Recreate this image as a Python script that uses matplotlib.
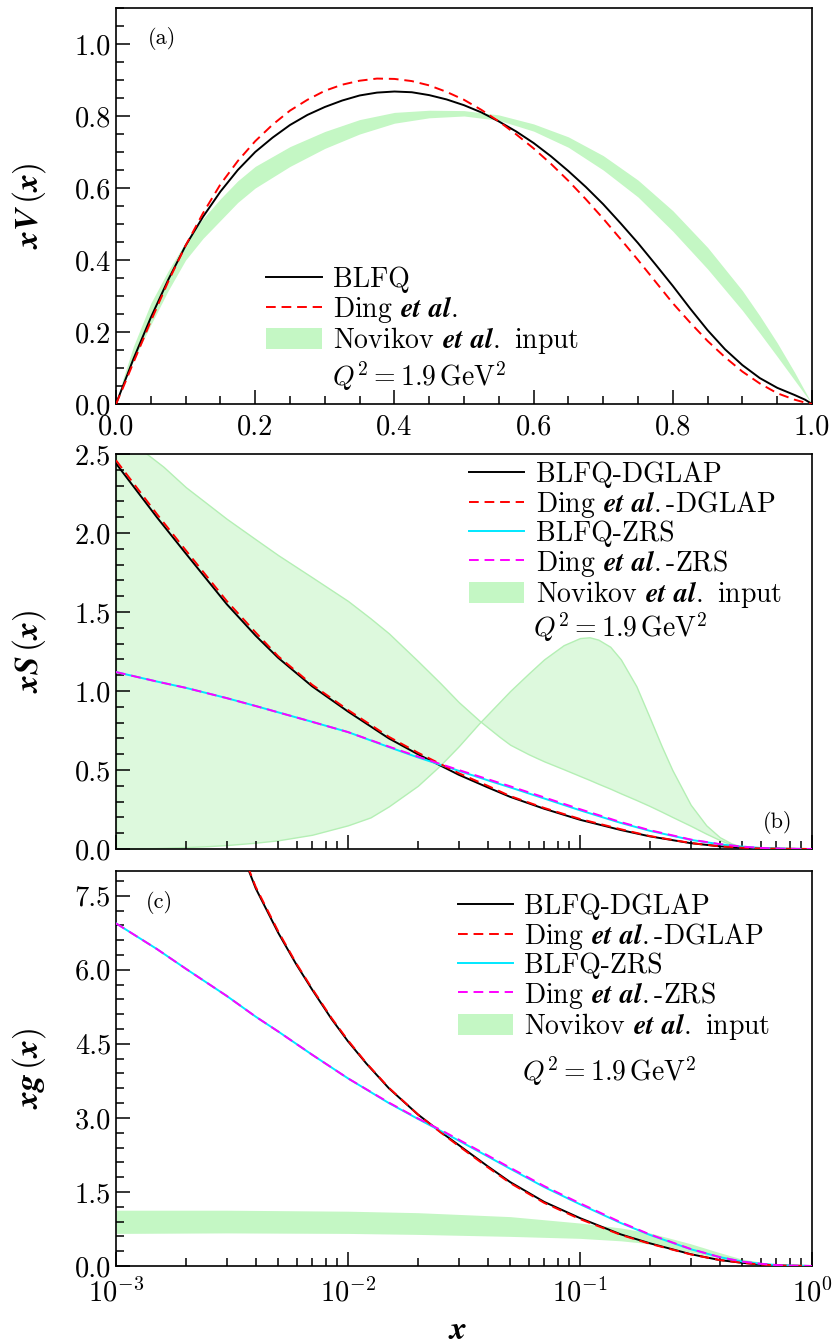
import numpy as np
import matplotlib
matplotlib.use('Agg')
import matplotlib.pyplot as plt
from matplotlib.ticker import MultipleLocator, FormatStrFormatter, LogLocator, NullFormatter
from matplotlib.lines import Line2D
from matplotlib.patches import Patch

plt.rcParams['font.family'] = 'serif'
plt.rcParams['font.serif'] = ['cmr10']
plt.rcParams['mathtext.fontset'] = 'cm'
plt.rcParams['axes.formatter.use_mathtext'] = True
plt.rcParams['axes.unicode_minus'] = False

# ---------------- Panel (a): valence xV(x) ----------------
xa = [0.0, 0.01, 0.025, 0.05, 0.075, 0.1, 0.125, 0.15, 0.175, 0.2, 0.225, 0.25, 0.275,
      0.3, 0.325, 0.35, 0.375, 0.4, 0.425, 0.45, 0.475, 0.5, 0.525, 0.55, 0.575, 0.6,
      0.625, 0.65, 0.675, 0.7, 0.725, 0.75, 0.775, 0.8, 0.825, 0.85, 0.875, 0.9,
      0.925, 0.95, 0.975, 0.99, 1.0]
blfq_a = [0.0, 0.05, 0.125, 0.24, 0.345, 0.44, 0.52, 0.59, 0.65, 0.70, 0.74, 0.775, 0.803,
          0.825, 0.843, 0.857, 0.865, 0.868, 0.866, 0.858, 0.846, 0.83, 0.81, 0.785, 0.757, 0.725,
          0.688, 0.647, 0.603, 0.555, 0.502, 0.447, 0.388, 0.328, 0.265, 0.205, 0.152, 0.108,
          0.072, 0.045, 0.025, 0.012, 0.0]
ding_a = [0.0, 0.045, 0.115, 0.23, 0.34, 0.44, 0.53, 0.61, 0.675, 0.73, 0.776, 0.815, 0.845,
          0.87, 0.887, 0.898, 0.904, 0.903, 0.897, 0.885, 0.867, 0.845, 0.817, 0.785, 0.749, 0.71,
          0.667, 0.62, 0.569, 0.515, 0.458, 0.40, 0.34, 0.28, 0.226, 0.175, 0.13, 0.09,
          0.057, 0.03, 0.012, 0.004, 0.0]
xa_band = [0.0, 0.01, 0.025, 0.05, 0.075, 0.1, 0.125, 0.15, 0.175, 0.2, 0.25, 0.3, 0.35, 0.4,
           0.45, 0.5, 0.55, 0.6, 0.65, 0.7, 0.75, 0.8, 0.85, 0.9, 0.925, 0.95, 0.975, 1.0]
nov_a_lo = [0.0, 0.05, 0.12, 0.22, 0.315, 0.40, 0.46, 0.51, 0.56, 0.60, 0.66, 0.71, 0.75, 0.78,
            0.795, 0.80, 0.788, 0.758, 0.713, 0.65, 0.575, 0.48, 0.375, 0.26, 0.197, 0.132, 0.066, 0.0]
nov_a_hi = [0.0, 0.07, 0.16, 0.28, 0.37, 0.45, 0.515, 0.57, 0.62, 0.66, 0.715, 0.757, 0.79, 0.81,
            0.816, 0.815, 0.803, 0.778, 0.742, 0.69, 0.622, 0.537, 0.435, 0.315, 0.245, 0.17, 0.088, 0.0]

# ---------------- Panel (b): sea xS(x) ----------------
xb = [1e-3, 1.5e-3, 2e-3, 3e-3, 4e-3, 5e-3, 7e-3, 1e-2, 1.5e-2, 2e-2, 3e-2, 4e-2, 5e-2,
      7e-2, 0.1, 0.15, 0.2, 0.3, 0.4, 0.5, 0.6, 0.7, 0.8, 1.0]
blfq_dglap_b = [2.44, 2.10, 1.87, 1.55, 1.35, 1.21, 1.03, 0.87, 0.70, 0.60, 0.47, 0.39, 0.33,
                0.255, 0.185, 0.12, 0.08, 0.037, 0.017, 0.008, 0.004, 0.002, 0.001, 0.0]
ding_dglap_b = [2.46, 2.12, 1.89, 1.57, 1.37, 1.22, 1.04, 0.88, 0.71, 0.61, 0.48, 0.40, 0.335,
                0.26, 0.19, 0.125, 0.082, 0.038, 0.017, 0.008, 0.004, 0.002, 0.001, 0.0]
blfq_zrs_b = [1.12, 1.06, 1.02, 0.955, 0.905, 0.865, 0.805, 0.74, 0.645, 0.58, 0.495, 0.435, 0.39,
              0.32, 0.245, 0.165, 0.115, 0.058, 0.03, 0.015, 0.007, 0.003, 0.001, 0.0]
ding_zrs_b = [1.12, 1.06, 1.02, 0.955, 0.905, 0.865, 0.805, 0.74, 0.648, 0.585, 0.50, 0.442, 0.397,
              0.327, 0.252, 0.17, 0.119, 0.06, 0.031, 0.015, 0.007, 0.003, 0.001, 0.0]
xb_band = [1e-3, 1.2e-3, 1.36e-3, 1.6e-3, 2e-3, 2.5e-3, 3e-3, 4e-3, 5e-3, 7e-3, 1e-2, 1.25e-2,
           1.5e-2, 2e-2, 2.5e-2, 3e-2, 3.7e-2, 4.5e-2, 5e-2, 6e-2, 7e-2, 8.5e-2, 0.1, 0.11,
           0.12, 0.135, 0.15, 0.175, 0.2, 0.225, 0.25, 0.3, 0.35, 0.4, 0.45, 0.5, 0.55, 0.6, 1.0]
nov_b_dec = [2.66, 2.58, 2.5, 2.42, 2.29, 2.18, 2.09, 1.96, 1.86, 1.72, 1.57, 1.46,
             1.365, 1.19, 1.05, 0.93, 0.81, 0.71, 0.66, 0.60, 0.555, 0.505, 0.462, 0.437,
             0.413, 0.382, 0.352, 0.31, 0.272, 0.236, 0.203, 0.147, 0.097, 0.057, 0.027, 0.009, 0.002, 0.0, 0.0]
nov_b_hump = [0.0, 0.002, 0.004, 0.007, 0.012, 0.018, 0.025, 0.04, 0.055, 0.09, 0.15, 0.20,
              0.27, 0.40, 0.53, 0.65, 0.80, 0.93, 1.00, 1.11, 1.20, 1.29, 1.335, 1.34,
              1.325, 1.28, 1.20, 1.03, 0.83, 0.65, 0.50, 0.28, 0.15, 0.075, 0.035, 0.013, 0.004, 0.0, 0.0]

# ---------------- Panel (c): gluon xg(x) ----------------
xc_dglap = [3.5e-3, 4e-3, 5e-3, 6e-3, 7e-3, 8.5e-3, 1e-2, 1.2e-2, 1.5e-2, 2e-2, 2.5e-2, 3e-2,
            4e-2, 5e-2, 7e-2, 0.1, 0.15, 0.2, 0.3, 0.4, 0.5, 0.6, 0.7, 0.8, 1.0]
blfq_dglap_c = [8.35, 7.65, 6.75, 6.1, 5.6, 5.0, 4.55, 4.1, 3.6, 3.07, 2.72, 2.45,
                2.02, 1.70, 1.30, 0.97, 0.64, 0.46, 0.24, 0.12, 0.065, 0.03, 0.015, 0.006, 0.0]
ding_dglap_c = [8.38, 7.68, 6.78, 6.12, 5.62, 5.02, 4.57, 4.11, 3.61, 3.07, 2.71, 2.43,
                2.0, 1.68, 1.28, 0.95, 0.63, 0.45, 0.235, 0.12, 0.065, 0.03, 0.015, 0.006, 0.0]
xc_zrs = [1e-3, 1.5e-3, 2e-3, 3e-3, 4e-3, 5e-3, 7e-3, 1e-2, 1.5e-2, 2e-2, 2.5e-2, 3e-2,
          4e-2, 5e-2, 7e-2, 0.1, 0.15, 0.2, 0.3, 0.4, 0.5, 0.6, 0.7, 0.8, 1.0]
blfq_zrs_c = [6.94, 6.42, 6.02, 5.47, 5.05, 4.75, 4.28, 3.80, 3.30, 2.98, 2.74, 2.54,
              2.22, 1.97, 1.60, 1.25, 0.87, 0.63, 0.34, 0.18, 0.09, 0.045, 0.02, 0.008, 0.0]
ding_zrs_c = [6.94, 6.42, 6.02, 5.47, 5.05, 4.75, 4.28, 3.80, 3.31, 2.99, 2.76, 2.56,
              2.24, 1.99, 1.62, 1.27, 0.885, 0.64, 0.345, 0.18, 0.09, 0.045, 0.02, 0.008, 0.0]
xc_band = [1e-3, 3e-3, 1e-2, 2e-2, 5e-2, 0.1, 0.15, 0.2, 0.3, 0.4, 0.5, 0.7, 1.0]
nov_c_lo = [0.66, 0.67, 0.66, 0.64, 0.60, 0.56, 0.51, 0.45, 0.28, 0.16, 0.07, 0.01, 0.0]
nov_c_hi = [1.13, 1.13, 1.11, 1.08, 1.00, 0.87, 0.77, 0.67, 0.45, 0.27, 0.14, 0.03, 0.0]

# ---------------- Styles ----------------
W, H = 838, 1343
GREEN = '#c4f7c4'
GREEN_B = '#ddf9dd'
GREEN_EDGE = '#b4efb4'
CYAN = '#00e8ff'
MAG = '#ff00ff'
LW = 1.4
DASH = (0, (5, 3))
TICKFS = 20.5
LEGFS = 20
LABFS = 24

fig = plt.figure(figsize=(W / 100, H / 100), dpi=100)


def rect(l, t, r, b):
    return [l / W, 1 - b / H, (r - l) / W, (b - t) / H]


axa = fig.add_axes(rect(116, 8, 812, 404))
axb = fig.add_axes(rect(116, 454, 812, 849))
axc = fig.add_axes(rect(116, 871, 812, 1266))

for ax in (axa, axb, axc):
    for s in ax.spines.values():
        s.set_linewidth(1.2)
    ax.tick_params(which='both', direction='in', top=False, right=False,
                   labelsize=TICKFS, width=1.1)
    ax.tick_params(which='major', length=10)
    ax.tick_params(which='minor', length=6)

leg_kw = dict(loc='upper left', frameon=False, fontsize=LEGFS, handlelength=2.0,
              handletextpad=0.4, borderpad=0, borderaxespad=0, handleheight=0.8,
              labelspacing=0.02)

# ---- (a)
axa.fill_between(xa_band, nov_a_lo, nov_a_hi, color=GREEN, lw=0, zorder=1)
axa.plot(xa, blfq_a, color='black', lw=LW, zorder=3)
axa.plot(xa, ding_a, color='red', lw=LW, ls=DASH, zorder=4)
axa.set_xlim(0, 1)
axa.set_ylim(0, 1.1)
axa.xaxis.set_major_locator(MultipleLocator(0.2))
axa.xaxis.set_minor_locator(MultipleLocator(0.05))
axa.yaxis.set_major_locator(MultipleLocator(0.2))
axa.yaxis.set_minor_locator(MultipleLocator(0.05))
axa.xaxis.set_major_formatter(FormatStrFormatter('%.1f'))
axa.yaxis.set_major_formatter(FormatStrFormatter('%.1f'))
axa.tick_params(axis='x', pad=7)
axa.set_ylabel(r'$\boldsymbol{xV}\,(\boldsymbol{x})$', fontsize=LABFS)
axa.yaxis.set_label_coords(-0.098, 0.5)
axa.text(0.066, 0.924, '(a)', transform=axa.transAxes, fontsize=16,
         ha='center', va='center')
ha = [Line2D([], [], color='black', lw=LW),
      Line2D([], [], color='red', lw=LW, ls=DASH),
      Patch(facecolor=GREEN, edgecolor='none')]
la = ['BLFQ', r'Ding $\boldsymbol{et\ al.}$', r'Novikov $\boldsymbol{et\ al.}$ input']
axa.legend(ha, la, bbox_to_anchor=(0.216, 0.347), **leg_kw)
axa.text(0.310, 0.070, r'$Q^2 = 1.9\,\mathrm{GeV}^2$', transform=axa.transAxes,
         fontsize=LEGFS, ha='left', va='center')

# ---- (b)
axb.fill_between(xb_band, nov_b_dec, nov_b_hump, facecolor=GREEN_B, edgecolor=GREEN_EDGE,
                 lw=1.0, zorder=1)
axb.plot(xb, blfq_dglap_b, color='black', lw=LW, zorder=3)
axb.plot(xb, ding_dglap_b, color='red', lw=LW, ls=DASH, zorder=4)
axb.plot(xb, blfq_zrs_b, color=CYAN, lw=LW, zorder=3)
axb.plot(xb, ding_zrs_b, color=MAG, lw=LW, ls=DASH, zorder=4)
axb.set_xscale('log')
axb.set_xlim(1e-3, 1)
axb.set_ylim(0, 2.5)
axb.xaxis.set_major_locator(LogLocator(base=10))
axb.xaxis.set_minor_locator(LogLocator(base=10, subs=np.arange(2, 10)))
axb.xaxis.set_minor_formatter(NullFormatter())
axb.tick_params(axis='x', which='both', labelbottom=False)
axb.yaxis.set_major_locator(MultipleLocator(0.5))
axb.yaxis.set_minor_locator(MultipleLocator(0.1))
axb.yaxis.set_major_formatter(FormatStrFormatter('%.1f'))
axb.set_ylabel(r'$\boldsymbol{xS}\,(\boldsymbol{x})$', fontsize=LABFS)
axb.yaxis.set_label_coords(-0.098, 0.5)
axb.text(0.95, 0.066, '(b)', transform=axb.transAxes, fontsize=16,
         ha='center', va='center')
hb = [Line2D([], [], color='black', lw=LW),
      Line2D([], [], color='red', lw=LW, ls=DASH),
      Line2D([], [], color=CYAN, lw=LW),
      Line2D([], [], color=MAG, lw=LW, ls=DASH),
      Patch(facecolor=GREEN, edgecolor='none')]
lb = ['BLFQ-DGLAP', r'Ding $\boldsymbol{et\ al.}$-DGLAP', 'BLFQ-ZRS',
      r'Ding $\boldsymbol{et\ al.}$-ZRS', r'Novikov $\boldsymbol{et\ al.}$ input']
axb.legend(hb, lb, bbox_to_anchor=(0.507, 0.980), **leg_kw)
axb.text(0.599, 0.562, r'$Q^2 = 1.9\,\mathrm{GeV}^2$', transform=axb.transAxes,
         fontsize=LEGFS, ha='left', va='center')

# ---- (c)
axc.fill_between(xc_band, nov_c_lo, nov_c_hi, color=GREEN, lw=0, zorder=1)
axc.plot(xc_dglap, blfq_dglap_c, color='black', lw=LW, zorder=3)
axc.plot(xc_dglap, ding_dglap_c, color='red', lw=LW, ls=DASH, zorder=4)
axc.plot(xc_zrs, blfq_zrs_c, color=CYAN, lw=LW, zorder=3)
axc.plot(xc_zrs, ding_zrs_c, color=MAG, lw=LW, ls=DASH, zorder=4)
axc.set_xscale('log')
axc.set_xlim(1e-3, 1)
axc.set_ylim(0, 8)
axc.xaxis.set_major_locator(LogLocator(base=10))
axc.xaxis.set_minor_locator(LogLocator(base=10, subs=np.arange(2, 10)))
axc.xaxis.set_minor_formatter(NullFormatter())
axc.tick_params(axis='x', pad=9)
axc.yaxis.set_major_locator(MultipleLocator(1.5))
axc.yaxis.set_minor_locator(MultipleLocator(0.3))
axc.yaxis.set_major_formatter(FormatStrFormatter('%.1f'))
axc.set_ylabel(r'$\boldsymbol{xg}\,(\boldsymbol{x})$', fontsize=LABFS)
axc.yaxis.set_label_coords(-0.098, 0.5)
axc.text(0.063, 0.92, '(c)', transform=axc.transAxes, fontsize=16,
         ha='center', va='center')
axc.legend(hb, lb, bbox_to_anchor=(0.491, 0.942), **leg_kw)
axc.text(0.583, 0.493, r'$Q^2 = 1.9\,\mathrm{GeV}^2$', transform=axc.transAxes,
         fontsize=LEGFS, ha='left', va='center')

fig.text(458 / W, 1 - 1330 / H, r'$\boldsymbol{x}$', fontsize=LABFS, ha='center', va='center')

fig.savefig('out.png', dpi=100)
